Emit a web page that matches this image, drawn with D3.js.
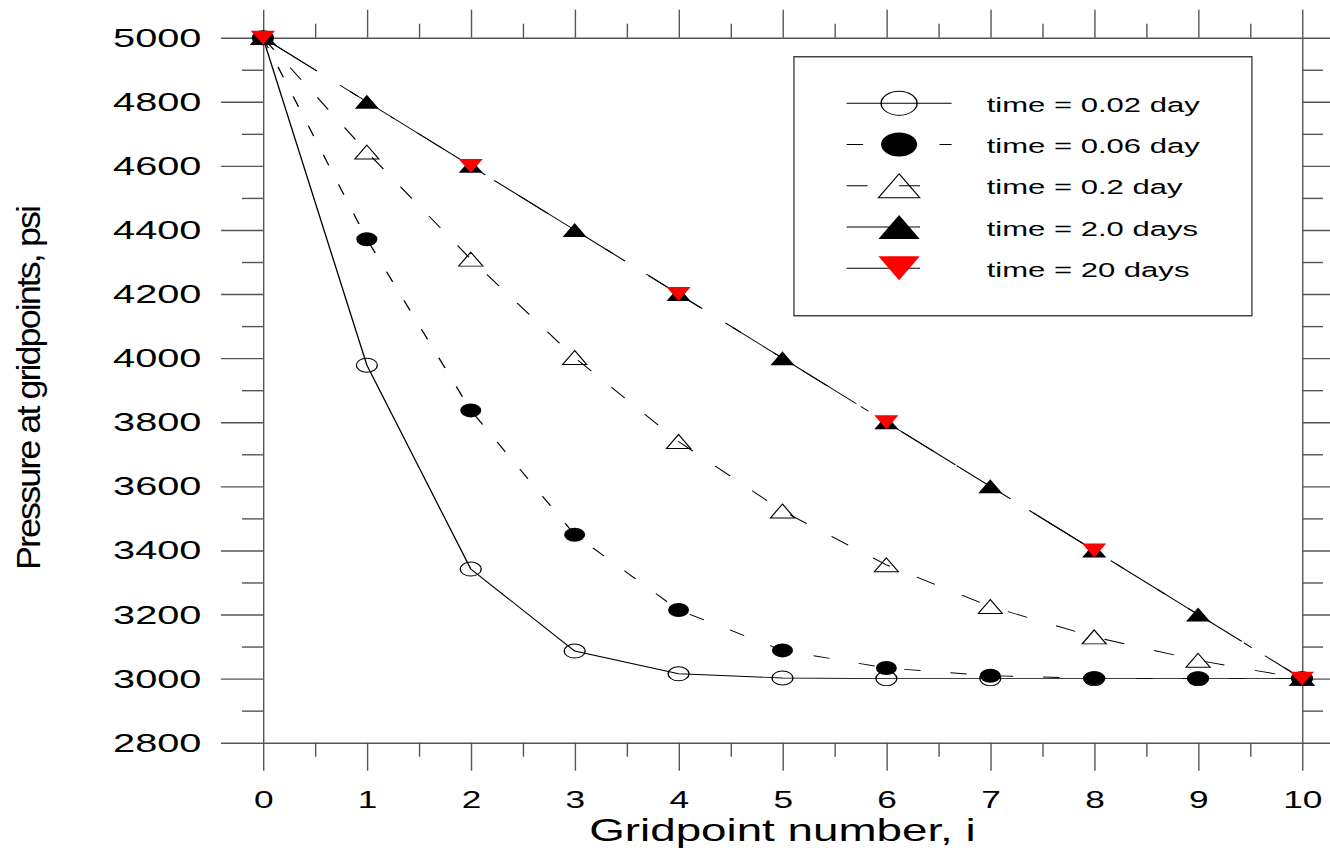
<!DOCTYPE html>
<html lang="en">
<head>
<meta charset="UTF-8">
<title>Pressure at gridpoints</title>
<script src="https://d3js.org/d3.v7.min.js"></script>
<style>
  body { margin: 0; background: #fff; }
  svg { display: block; font-family: "Liberation Sans", Arial, Helvetica, sans-serif; }
  .axis path, .axis line { stroke: #555; stroke-width: 1.4; vector-effect: non-scaling-stroke; }
  .axis text { fill: #000; }
  .series { fill: none; stroke: #000; stroke-width: 0.9; }
</style>
</head>
<body>
<script>
// data
const gridpoints = [0, 1, 2, 3, 4, 5, 6, 7, 8, 9, 10];
const evenGridpoints = [0, 2, 4, 6, 8, 10];
const p002 = [5000, 3978, 3342, 3086, 3015, 3002, 3000, 3000, 3000, 3000, 3000];
const p006 = [5000, 4371, 3837, 3449, 3214, 3088, 3033, 3009, 3001, 3000, 3000];
const p02  = [5000, 4643, 4309, 4002, 3740, 3523, 3355, 3225, 3130, 3057, 3000];
const p2   = [5000, 4800, 4600, 4400, 4200, 4000, 3800, 3600, 3400, 3200, 3000];
const p20  = [5000, 4600, 4200, 3800, 3400, 3000];
const seriesLabels = ["time = 0.02 day", "time = 0.06 day", "time = 0.2 day", "time = 2.0 days", "time = 20 days"];
const yTicks = [2800, 3000, 3200, 3400, 3600, 3800, 4000, 4200, 4400, 4600, 4800, 5000];
const xTicks = [0, 1, 2, 3, 4, 5, 6, 7, 8, 9, 10];

// the original picture is stretched sideways, so draw in a narrower space and scale x
const SX = 1.5;
const width = 1330, height = 850;

const series = [
  { name: seriesLabels[0], xs: gridpoints, ys: p002, dash: null, marker: "circleOpen" },
  { name: seriesLabels[1], xs: gridpoints, ys: p006, dash: "11 20", marker: "circleFilled" },
  { name: seriesLabels[2], xs: gridpoints, ys: p02, dash: "14 21", marker: "triOpen" },
  { name: seriesLabels[3], xs: gridpoints, ys: p2, dash: "49 30 7 30", marker: "triFilled" },
  { name: seriesLabels[4], xs: evenGridpoints, ys: p20, dash: "49 21", marker: "triRed" }
];

const svg = d3.select("body").append("svg")
  .attr("width", width)
  .attr("height", height);

const g = svg.append("g").attr("transform", `scale(${SX},1)`);

const x = d3.scaleLinear().domain([0, 10]).range([175.3, 868]);
const y = d3.scaleLinear().domain([2800, 5000]).range([742.7, 37.7]);

const yMinor = d3.range(2900, 5000, 200);
const xMinor = d3.range(0.5, 10, 1);

function addAxis(axis, transform, minorAxis, fontSize) {
  const a = g.append("g").attr("class", "axis").attr("transform", transform).call(axis);
  a.attr("font-family", null).attr("font-size", fontSize);
  const m = g.append("g").attr("class", "axis").attr("transform", transform).call(minorAxis);
  m.select(".domain").remove();
  return a;
}

// left
addAxis(d3.axisLeft(y).tickValues(yTicks).tickSize(28).tickSizeOuter(0).tickPadding(13).tickFormat(d3.format("d")),
  `translate(${x(0)},0)`,
  d3.axisLeft(y).tickValues(yMinor).tickSize(14).tickFormat(""), 26.5);
// right
addAxis(d3.axisRight(y).tickValues(yTicks).tickSize(28).tickSizeOuter(0).tickFormat(""),
  `translate(${x(10)},0)`,
  d3.axisRight(y).tickValues(yMinor).tickSize(14).tickFormat(""), 10);
// bottom
addAxis(d3.axisBottom(x).tickValues(xTicks).tickSize(28).tickSizeOuter(0).tickPadding(21).tickFormat(d3.format("d")),
  `translate(0,${y(2800)})`,
  d3.axisBottom(x).tickValues(xMinor).tickSize(14).tickFormat(""), 23.5);
// top
addAxis(d3.axisTop(x).tickValues(xTicks).tickSize(28).tickSizeOuter(0).tickFormat(""),
  `translate(0,${y(5000)})`,
  d3.axisTop(x).tickValues(xMinor).tickSize(14).tickFormat(""), 10);

function markerPath(type, size) {
  if (type.startsWith("circle")) {
    const r = size / 2;
    return `M${-r},0A${r},${r} 0 1,0 ${r},0A${r},${r} 0 1,0 ${-r},0Z`;
  }
  const s = size * 1.15, h = s * 0.866;
  if (type === "triRed") return `M${-s / 2},${-h / 2}L${s / 2},${-h / 2}L0,${h / 2}Z`;
  return `M0,${-h / 2}L${s / 2},${h / 2}L${-s / 2},${h / 2}Z`;
}
function styleMarker(sel, type) {
  if (type === "circleOpen" || type === "triOpen") {
    sel.attr("fill", "none").attr("stroke", "#000").attr("stroke-width", 0.9);
  } else if (type === "triRed") {
    sel.attr("fill", "#ff0000").attr("stroke", "none");
  } else {
    sel.attr("fill", "#000").attr("stroke", "none");
  }
}

const line = d3.line().x(d => x(d[0])).y(d => y(d[1]));

series.forEach(s => {
  const pts = s.xs.map((v, i) => [v, s.ys[i]]);
  g.append("path")
    .attr("class", "series")
    .attr("d", line(pts))
    .attr("stroke-dasharray", s.dash);
  g.append("g").selectAll("path")
    .data(pts)
    .join("path")
    .attr("transform", d => `translate(${x(d[0])},${y(d[1])})`)
    .attr("d", markerPath(s.marker, 14))
    .call(styleMarker, s.marker);
});

// legend
const legend = g.append("g");
legend.append("rect")
  .attr("x", 529.3).attr("y", 56.7)
  .attr("width", 305.3).attr("height", 259)
  .attr("fill", "#fff")
  .attr("stroke", "#444")
  .attr("stroke-width", 1.4)
  .attr("vector-effect", "non-scaling-stroke");

const rows = legend.selectAll("g.row")
  .data(series)
  .join("g")
  .attr("class", "row")
  .attr("transform", (d, i) => `translate(0,${103.3 + i * 41.25})`);

rows.append("line")
  .attr("class", "series")
  .attr("x1", 564.4).attr("x2", 634.4)
  .attr("stroke-dasharray", d => d.dash);
rows.each(function (d) {
  d3.select(this).append("path")
    .attr("transform", "translate(599.4,0)")
    .attr("d", markerPath(d.marker, 24))
    .call(styleMarker, d.marker);
});
rows.append("text")
  .attr("x", 657.8)
  .attr("y", 1.5)
  .attr("dominant-baseline", "central")
  .attr("font-size", 20.7)
  .text(d => d.name);

// axis titles
g.append("text")
  .attr("x", (x(0) + x(10)) / 2)
  .attr("y", 841)
  .attr("text-anchor", "middle")
  .attr("font-size", 30.5)
  .text("Gridpoint number, i");

svg.append("text")
  .attr("transform", "translate(40,387.5) rotate(-90) scale(1,0.9)")
  .attr("text-anchor", "middle")
  .attr("font-size", 36)
  .attr("textLength", 365)
  .attr("lengthAdjust", "spacing")
  .text("Pressure at gridpoints, psi");
</script>
</body>
</html>
